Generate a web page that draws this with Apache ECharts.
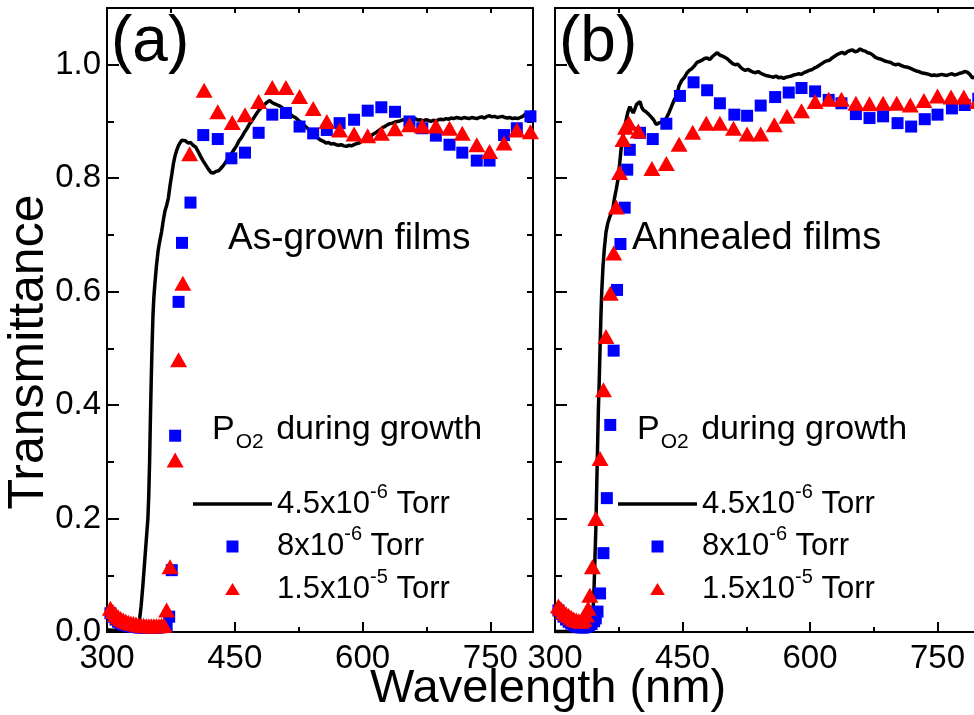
<!DOCTYPE html>
<html><head><meta charset="utf-8">
<script src="https://cdn.jsdelivr.net/npm/echarts@6/dist/echarts.min.js"></script>
<style>html,body{margin:0;padding:0;background:#fff}#c{width:974px;height:715px}</style>
</head><body><div id="c"></div>
<script>
// ---------- DATA ----------
const xTickValues = [300, 450, 600, 750];
const yTickValues = [0.0, 0.2, 0.4, 0.6, 0.8, 1.0];
const seriesNames = ['4.5x10-6 Torr', '8x10-6 Torr', '1.5x10-5 Torr'];

// (a) As-grown films: 4.5x10^-6 Torr (solid line)
const asGrownLine = [[300,0.004],[305,0.003],[310,0.003],[315,0.002],[320,0.002],[325,0.002],[330,0.002],[334,0.003],[336,0.004],[338,0.02],[340,0.045],[342,0.08],[344,0.12],[346,0.16],[348,0.2],[349,0.24],[350,0.3],[351,0.38],[352,0.45],[353,0.51],[354,0.56],[355,0.59],[356,0.61],[358,0.645],[360,0.672],[362,0.69],[364,0.705],[366,0.725],[368,0.742],[370,0.752],[372,0.765],[374,0.787],[376,0.806],[378,0.826],[380,0.84],[382,0.85],[384,0.858],[386,0.863],[388,0.867],[390,0.864],[392,0.866],[395,0.862],[398,0.863],[401,0.858],[404,0.855],[407,0.847],[410,0.838],[413,0.83],[416,0.823],[419,0.816],[422,0.81],[425,0.809],[428,0.812],[431,0.813],[434,0.818],[437,0.823],[440,0.83],[443,0.836],[446,0.843],[449,0.85],[452,0.857],[455,0.866],[458,0.872],[461,0.88],[464,0.887],[467,0.895],[470,0.901],[473,0.908],[476,0.915],[479,0.921],[482,0.926],[485,0.93],[488,0.934],[491,0.937],[494,0.933],[497,0.931],[500,0.929],[503,0.927],[506,0.924],[509,0.921],[512,0.916],[515,0.913],[518,0.909],[521,0.907],[524,0.903],[527,0.899],[530,0.895],[533,0.891],[536,0.887],[539,0.882],[542,0.878],[545,0.874],[548,0.87],[551,0.867],[554,0.865],[557,0.862],[560,0.863],[563,0.86],[566,0.861],[569,0.859],[572,0.858],[575,0.859],[578,0.857],[581,0.856],[584,0.858],[587,0.857],[590,0.859],[593,0.861],[596,0.862],[599,0.865],[602,0.866],[605,0.869],[608,0.872],[611,0.876],[614,0.879],[617,0.882],[620,0.885],[623,0.889],[626,0.891],[629,0.894],[632,0.896],[635,0.897],[638,0.899],[641,0.9],[644,0.901],[647,0.903],[650,0.902],[653,0.904],[656,0.904],[659,0.903],[662,0.905],[665,0.902],[668,0.903],[671,0.901],[674,0.903],[677,0.902],[680,0.9],[683,0.902],[686,0.901],[689,0.903],[692,0.904],[695,0.903],[698,0.905],[701,0.904],[704,0.906],[707,0.905],[710,0.907],[713,0.906],[716,0.905],[719,0.907],[722,0.906],[725,0.905],[728,0.907],[731,0.906],[734,0.905],[737,0.907],[740,0.908],[743,0.906],[746,0.909],[749,0.91],[752,0.908],[755,0.909],[758,0.907],[761,0.908],[764,0.909],[767,0.907],[770,0.906],[773,0.907],[776,0.905],[779,0.906],[782,0.905],[785,0.907],[788,0.909],[791,0.913],[794,0.915],[797,0.916],[800,0.917]];

// (a) 8x10^-6 Torr (squares)
const asGrownSquares = [[304,0.033],[307,0.027],[310,0.022],[313,0.018],[316,0.015],[319,0.013],[322,0.012],[325,0.011],[328,0.01],[331,0.009],[334,0.009],[337,0.008],[340,0.008],[343,0.008],[346,0.008],[349,0.008],[352,0.008],[355,0.008],[358,0.008],[361,0.008],[364,0.009],[367,0.009],[370,0.01],[373,0.027],[376,0.109],[380,0.346],[384,0.582],[388,0.686],[398,0.757],[413,0.876],[430,0.869],[446,0.835],[462,0.845],[478,0.88],[494,0.912],[510,0.915],[526,0.891],[542,0.879],[558,0.885],[573,0.897],[590,0.903],[606,0.919],[622,0.925],[638,0.917],[655,0.9],[670,0.888],[686,0.875],[702,0.859],[717,0.845],[734,0.831],[749,0.831],[766,0.876],[781,0.888],[797,0.909]];

// (a) 1.5x10^-5 Torr (triangles)
const asGrownTriangles = [[304,0.042],[307,0.036],[310,0.031],[313,0.027],[316,0.024],[319,0.021],[322,0.019],[325,0.017],[328,0.016],[331,0.015],[334,0.014],[337,0.013],[340,0.012],[343,0.012],[346,0.011],[349,0.011],[352,0.011],[355,0.011],[358,0.011],[361,0.011],[364,0.012],[367,0.012],[370,0.039],[374,0.115],[380,0.303],[384,0.48],[389,0.615],[397,0.843],[414,0.955],[430,0.917],[447,0.898],[462,0.912],[478,0.935],[494,0.96],[510,0.96],[526,0.944],[542,0.923],[558,0.9],[573,0.885],[590,0.878],[606,0.875],[622,0.879],[638,0.887],[655,0.894],[670,0.892],[686,0.892],[702,0.888],[717,0.879],[734,0.859],[749,0.847],[766,0.862],[781,0.885],[797,0.882]];

// (b) Annealed films: 4.5x10^-6 Torr (solid line)
const annealedLine = [[300,0.001],[310,0.001],[320,0.001],[330,0.001],[338,0.001],[341,0.002],[343,0.005],[344,0.02],[345,0.045],[346,0.08],[347,0.13],[348,0.18],[349,0.25],[350,0.32],[351,0.39],[352,0.44],[353,0.5],[354,0.555],[355,0.6],[356.5,0.645],[358,0.675],[360,0.705],[362,0.72],[364,0.73],[366,0.728],[368,0.745],[370,0.765],[372,0.78],[374,0.797],[376,0.825],[378,0.855],[380,0.875],[382,0.891],[384,0.905],[386,0.918],[388,0.926],[390,0.92],[392,0.915],[394,0.922],[396,0.93],[398,0.933],[400,0.935],[402,0.925],[404,0.92],[407,0.917],[410,0.913],[413,0.908],[416,0.903],[419,0.895],[422,0.897],[425,0.899],[428,0.9],[431,0.906],[434,0.915],[437,0.926],[440,0.937],[443,0.945],[446,0.963],[449,0.972],[452,0.977],[455,0.985],[458,0.99],[461,0.993],[464,0.998],[467,1.004],[470,1.006],[473,1.008],[476,1.011],[479,1.012],[482,1.009],[485,1.014],[488,1.018],[491,1.021],[494,1.017],[497,1.015],[500,1.013],[503,1.01],[506,1.006],[509,1.002],[512,1.0],[515,1.001],[518,0.996],[521,0.992],[524,0.99],[527,0.992],[530,0.989],[533,0.987],[536,0.986],[539,0.988],[542,0.985],[545,0.983],[548,0.981],[551,0.98],[554,0.979],[557,0.978],[560,0.98],[563,0.977],[566,0.978],[569,0.976],[572,0.978],[575,0.979],[578,0.98],[581,0.982],[584,0.983],[587,0.984],[590,0.983],[593,0.986],[596,0.988],[599,0.99],[602,0.991],[605,0.994],[608,0.996],[611,0.999],[614,1.002],[617,1.005],[620,1.007],[623,1.008],[626,1.012],[629,1.015],[632,1.018],[635,1.02],[638,1.022],[641,1.019],[644,1.023],[647,1.025],[650,1.026],[653,1.023],[656,1.024],[659,1.028],[662,1.025],[665,1.024],[668,1.021],[671,1.02],[674,1.017],[677,1.013],[680,1.011],[683,1.01],[686,1.008],[689,1.006],[692,1.005],[695,1.004],[698,1.001],[701,1.0],[704,1.001],[707,0.999],[710,0.997],[713,0.996],[716,0.995],[719,0.993],[722,0.991],[725,0.989],[728,0.988],[731,0.986],[734,0.985],[737,0.984],[740,0.983],[743,0.981],[746,0.982],[749,0.981],[752,0.982],[755,0.983],[758,0.982],[761,0.981],[764,0.983],[767,0.984],[770,0.982],[773,0.983],[776,0.985],[779,0.986],[782,0.988],[785,0.987],[788,0.983],[791,0.977],[794,0.978],[797,0.976],[800,0.975]];

// (b) 8x10^-6 Torr (squares)
const annealedSquares = [[304,0.038],[307,0.032],[310,0.027],[313,0.022],[316,0.018],[319,0.015],[322,0.012],[325,0.01],[328,0.009],[331,0.008],[334,0.008],[337,0.009],[340,0.011],[343,0.014],[346,0.019],[348,0.024],[350,0.036],[353,0.068],[357,0.139],[361,0.236],[365,0.365],[369,0.496],[373,0.603],[377,0.684],[382,0.748],[385,0.815],[388,0.85],[400,0.88],[415,0.869],[431,0.896],[447,0.945],[463,0.969],[479,0.955],[494,0.932],[511,0.912],[526,0.91],[542,0.928],[559,0.943],[575,0.951],[590,0.959],[606,0.953],[622,0.938],[637,0.932],[654,0.913],[670,0.906],[686,0.909],[703,0.897],[719,0.891],[735,0.904],[750,0.912],[767,0.923],[782,0.929],[798,0.94]];

// (b) 1.5x10^-5 Torr (triangles)
const annealedTriangles = [[304,0.046],[307,0.041],[310,0.036],[313,0.032],[316,0.029],[319,0.026],[322,0.023],[325,0.021],[328,0.02],[331,0.019],[334,0.022],[337,0.03],[339,0.042],[341,0.065],[344,0.115],[348,0.2],[353,0.306],[357,0.427],[360,0.521],[365,0.597],[369,0.668],[372,0.749],[376,0.81],[380,0.868],[383,0.89],[387,0.897],[398,0.883],[414,0.817],[431,0.826],[446,0.86],[462,0.881],[478,0.897],[494,0.897],[510,0.888],[526,0.878],[542,0.878],[558,0.894],[573,0.909],[590,0.919],[606,0.935],[622,0.939],[637,0.939],[654,0.932],[670,0.931],[686,0.932],[702,0.932],[718,0.929],[734,0.937],[750,0.945],[766,0.943],[781,0.943],[797,0.935]];

// ---------- CHART ----------
const FONT = '"Liberation Sans", Arial, Helvetica, sans-serif';
const BLACK = '#000';
const chart = echarts.init(document.getElementById('c'), null, {renderer: 'canvas'});

function xAxesFor(gi) {
  const base = {gridIndex: gi, type: 'value', min: 300, max: 800, splitLine: {show: false},
    axisLine: {show: true, onZero: false, lineStyle: {color: BLACK, width: 2}}};
  return [
    Object.assign({}, base, {position: 'bottom', interval: 150,
      axisTick: {show: true, inside: true, length: 10, lineStyle: {color: BLACK, width: 2}},
      axisLabel: {show: true, fontSize: 33, color: BLACK, fontFamily: FONT, margin: 10,
        showMinLabel: true, showMaxLabel: false,
        formatter: v => xTickValues.indexOf(v) >= 0 ? String(v) : ''}}),
    Object.assign({}, base, {position: 'bottom', interval: 75,
      axisTick: {show: true, inside: true, length: 5, lineStyle: {color: BLACK, width: 2}},
      axisLabel: {show: false}}),
    Object.assign({}, base, {position: 'top', interval: 75,
      axisTick: {show: true, inside: true, length: 5, lineStyle: {color: BLACK, width: 2}},
      axisLabel: {show: false}})
  ];
}
function yAxesFor(gi, labels) {
  const base = {gridIndex: gi, type: 'value', min: 0, max: 1.1, splitLine: {show: false},
    axisLine: {show: true, onZero: false, lineStyle: {color: BLACK, width: 2}}};
  return [
    Object.assign({}, base, {position: 'left', interval: 0.2,
      axisTick: {show: true, inside: true, length: 12, lineStyle: {color: BLACK, width: 2}},
      axisLabel: {show: labels, fontSize: 33, color: BLACK, fontFamily: FONT, margin: 6,
        showMaxLabel: false,
        formatter: v => yTickValues.some(t => Math.abs(t - v) < 1e-6) ? v.toFixed(1) : ''}}),
    Object.assign({}, base, {position: 'left', interval: 0.1,
      axisTick: {show: true, inside: true, length: 7, lineStyle: {color: BLACK, width: 2}},
      axisLabel: {show: false}}),
    Object.assign({}, base, {position: 'right', interval: 0.1,
      axisTick: {show: true, inside: true, length: 6, lineStyle: {color: BLACK, width: 2}},
      axisLabel: {show: false}})
  ];
}

const LINE_ICON = 'path://M0,0L79,0L79,3.6L0,3.6Z';
const SQUARE_ICON = 'path://M0,0L10,0L10,10L0,10Z';
const TRI_ICON = 'path://M8,0L16,13L0,13Z';

function panelSeries(gi, lineData, sqData, triData) {
  const ax = gi * 3;
  return [
    {name: seriesNames[0], type: 'line', xAxisIndex: ax, yAxisIndex: ax, data: lineData,
      showSymbol: false, symbol: 'none', smooth: false, clip: true,
      lineStyle: {color: BLACK, width: 3.5}, itemStyle: {color: BLACK}, z: 2},
    {name: seriesNames[1], type: 'scatter', xAxisIndex: ax, yAxisIndex: ax, data: sqData,
      symbol: 'rect', symbolSize: 12, itemStyle: {color: '#0000ff', opacity: 1}, z: 3},
    {name: seriesNames[2], type: 'scatter', xAxisIndex: ax, yAxisIndex: ax, data: triData,
      symbol: 'triangle', symbolSize: [17, 15], itemStyle: {color: '#ff0000', opacity: 1}, z: 4}
  ];
}

const legendTexts = {};
legendTexts[seriesNames[0]] = '{n|4.5x10}{s|-6}{n| Torr}';
legendTexts[seriesNames[1]] = '{n|8x10}{s|-6}{n| Torr}';
legendTexts[seriesNames[2]] = '{n|1.5x10}{s|-5}{n| Torr}';

function legendFor(left) {
  return {
    left: left, top: 482, orient: 'vertical', padding: 0,
    itemWidth: 79, itemHeight: 12, itemGap: 5, selectedMode: false, symbolKeepAspect: true,
    data: [{name: seriesNames[0], icon: LINE_ICON}, {name: seriesNames[1], icon: SQUARE_ICON}, {name: seriesNames[2], icon: TRI_ICON}],
    formatter: name => legendTexts[name],
    textStyle: {color: BLACK, fontFamily: FONT, fontSize: 31,
      rich: {
        n: {fontSize: 31, lineHeight: 44, color: BLACK, fontFamily: FONT},
        s: {fontSize: 20, verticalAlign: 'top', color: BLACK, fontFamily: FONT}
      }}
  };
}

function pTitle(x) {
  return {type: 'text', x: x, y: 413, z: 10, style: {
    text: '{p|P}{sub|O2}{p| during growth}', verticalAlign: 'top', fill: BLACK,
    rich: {
      p: {fontSize: 34, lineHeight: 40, verticalAlign: 'top', fontFamily: FONT, color: BLACK},
      sub: {fontSize: 21, lineHeight: 21, padding: [27, 3, 0, 1], verticalAlign: 'bottom', fontFamily: FONT, color: BLACK}
    }}};
}

const option = {
  backgroundColor: '#ffffff',
  animation: false,
  grid: [
    {left: 107, top: 8, width: 426, height: 624, containLabel: false, outerBoundsMode: 'none'},
    {left: 555, top: 8, width: 425, height: 624, containLabel: false, outerBoundsMode: 'none'}
  ],
  xAxis: xAxesFor(0).concat(xAxesFor(1)),
  yAxis: yAxesFor(0, true).concat(yAxesFor(1, false)),
  legend: [legendFor(193), legendFor(618)],
  series: panelSeries(0, asGrownLine, asGrownSquares, asGrownTriangles)
    .concat(panelSeries(1, annealedLine, annealedSquares, annealedTriangles)),
  graphic: [
    {type: 'text', x: 111, y: 43, z: 10, style: {text: '(a)', fontSize: 64, fontFamily: FONT, fill: BLACK, verticalAlign: 'middle'}},
    {type: 'text', x: 559, y: 43, z: 10, style: {text: '(b)', fontSize: 64, fontFamily: FONT, fill: BLACK, verticalAlign: 'middle'}},
    {type: 'text', x: 228, y: 239, z: 10, style: {text: 'As-grown films', fontSize: 37, fontFamily: FONT, fill: BLACK, verticalAlign: 'middle'}},
    {type: 'text', x: 632, y: 239, z: 10, style: {text: 'Annealed films', fontSize: 38, fontFamily: FONT, fill: BLACK, verticalAlign: 'middle'}},
    pTitle(212),
    pTitle(637),
    {type: 'text', x: 29, y: 352, rotation: Math.PI / 2, z: 10, style: {text: 'Transmittance', fontSize: 50, fontFamily: FONT, fill: BLACK, textAlign: 'center', verticalAlign: 'middle'}},
    {type: 'text', x: 548, y: 689, z: 10, style: {text: 'Wavelength (nm)', fontSize: 47, fontFamily: FONT, fill: BLACK, textAlign: 'center', verticalAlign: 'middle'}}
  ]
};
chart.setOption(option);
</script></body></html>
